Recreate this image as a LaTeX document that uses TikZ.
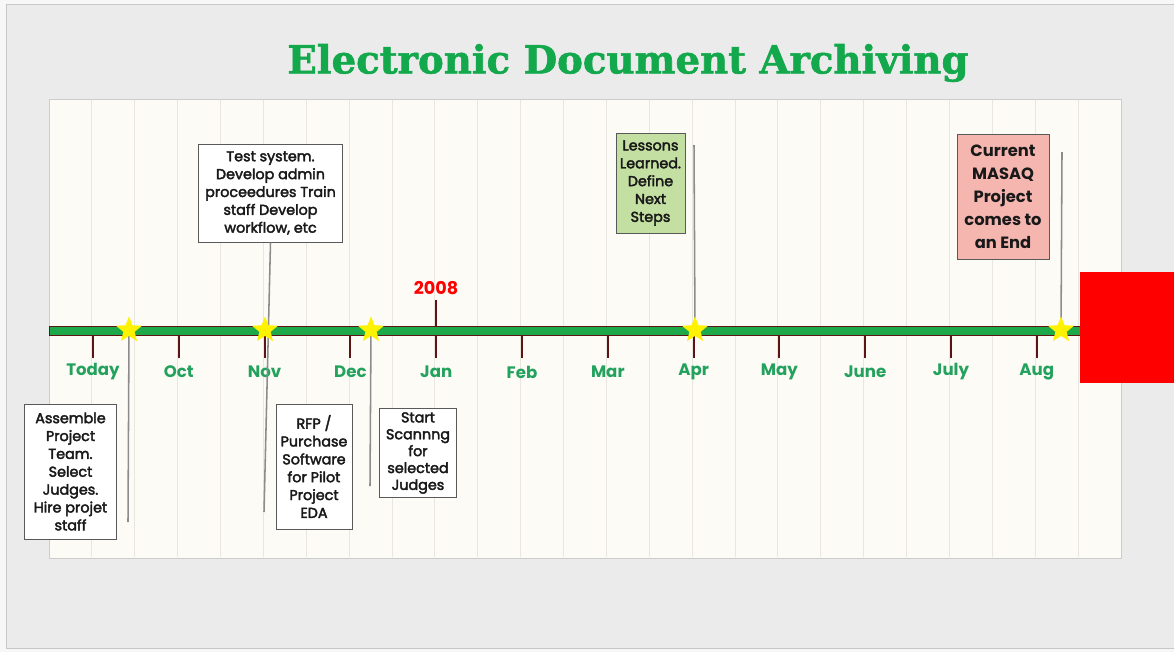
\documentclass[tikz,border=0pt]{standalone}
\usepackage{fontspec}
\usepackage{xcolor}
\usepackage{tikz}
\usetikzlibrary{positioning,shapes.geometric}

\newfontfamily\gothic{Poppins}[FakeBold=2.6]
\newfontfamily\gothicbold{Poppins}
\newfontfamily\slab{DejaVu Serif}[BoldFeatures={FakeBold=1.5}]

\definecolor{titlegreen}{HTML}{12A84B}
\definecolor{monthgreen}{HTML}{23A25E}
\definecolor{bargreen}{HTML}{1DA84A}
\definecolor{tickred}{HTML}{5E1414}
\definecolor{paper}{HTML}{FDFBF5}
\definecolor{gridline}{HTML}{E8E6DE}
\definecolor{slide}{HTML}{EBEBEB}
\definecolor{notegreen}{HTML}{C4DFA2}
\definecolor{notepink}{HTML}{F5B6B0}

\begin{document}
\begin{tikzpicture}[
  x=0.025cm, y=-0.025cm,
  note/.style={rectangle, draw=black!65, line width=0.7pt, fill=white, align=center, inner sep=1pt, text=black!90, font=\gothic\fontsize{10.2}{12.7}\selectfont},
  leader/.style={draw=black!45, line width=1.1pt},
  tick/.style={draw=tickred, line width=1.5pt},
  month/.style={text=monthgreen, font=\gothicbold\bfseries\fontsize{11.8}{13}\selectfont},
  milestone/.style={star, star points=5, star point ratio=2.3, fill=yellow, draw=none, inner sep=0pt, minimum size=0.68cm}
]
\useasboundingbox (0,0) rectangle (1174,652);

% slide and timeline panel
\fill[black!3] (0,0) rectangle (1174,652);
\fill[slide] (6,4) rectangle (1174,648);
\draw[black!22] (1174,4) -- (6,4) -- (6,648) -- (1174,648);
\fill[black!8] (52,102) rectangle (1124,561);
\filldraw[fill=paper, draw=black!20] (49,99) rectangle (1121,558);
\foreach \k in {1,...,24}
  \draw[gridline, line width=0.7pt] ({49+42.88*\k},100) -- ++(0,457);

\node[text=titlegreen, font=\slab\bfseries\fontsize{27.5}{30}\selectfont] (title) at (628,63) {Electronic Document Archiving};

% timeline bar, months and year
\filldraw[fill=bargreen, draw=tickred, line width=0.6pt] (49,326) rectangle (1084,335);
\foreach \m [count=\i from 0] in {Today,Oct,Nov,Dec,Jan,Feb,Mar,Apr,May,June,July,Aug} {
  \draw[tick] ({93+85.8*\i},335) -- ++(0,23);
  \node[month] (\m) at ({93+85.8*\i},372) {\m};
}
\draw[tick] (436,326) -- (436,300) coordinate (jtop);
\node[text=red, font=\gothicbold\bfseries\fontsize{12.5}{14}\selectfont, above=0pt of jtop] (year) {2008};

% notes
\node[note, minimum width=2.275cm, minimum height=3.375cm] (assemble) at (70.5,471.5) {Assemble\\Project\\Team.\\Select\\Judges.\\Hire projet\\staff};
\node[note, minimum width=3.575cm, minimum height=2.45cm] (testsys) at (270.5,193) {Test system.\\Develop admin\\proceedures Train\\staff Develop\\workflow, etc};
\node[note, minimum width=1.9cm, minimum height=3.125cm] (rfp) at (314,466.5) {RFP /\\Purchase\\Software\\for Pilot\\Project\\EDA};
\node[note, minimum width=1.925cm, minimum height=2.225cm, font=\gothic\fontsize{10.2}{12}\selectfont] (scan) at (418,453) {Start\\Scannng\\for\\selected\\Judges};
\node[note, fill=notegreen, minimum width=1.725cm, minimum height=2.5cm] (lessons) at (650.5,183) {Lessons\\Learned.\\Define\\Next\\Steps};
\node[note, fill=notepink, minimum width=2.3cm, minimum height=3.1cm, font=\gothicbold\bfseries\fontsize{11.6}{16.3}\selectfont] (current) at (1003,197) {Current\\MASAQ\\Project\\comes to\\an End};

% leader lines to the milestones
\coordinate (p1) at (129,330);
\coordinate (p2) at (265,330);
\coordinate (p3) at (371,330);
\coordinate (p4) at (695,330);
\coordinate (p5) at (1061,330);
\coordinate (c1) at (128,522);
\coordinate (c2) at (264,512);
\coordinate (c3) at (370,486);
\coordinate (c4) at (694,145);
\coordinate (c5) at (1062,152);
\draw[leader] (p1) -- (c1);
\draw[leader] (testsys.south) -- (c2);
\draw[leader] (p3) -- (c3);
\draw[leader] (c4) -- (p4);
\draw[leader] (c5) -- (p5);

\node[milestone] (s1) at (p1) {};
\node[milestone] (s2) at (p2) {};
\node[milestone] (s3) at (p3) {};
\node[milestone] (s4) at (p4) {};
\node[milestone] (s5) at (p5) {};

\fill[red] (1080,272) rectangle (1174,383);
\end{tikzpicture}
\end{document}
